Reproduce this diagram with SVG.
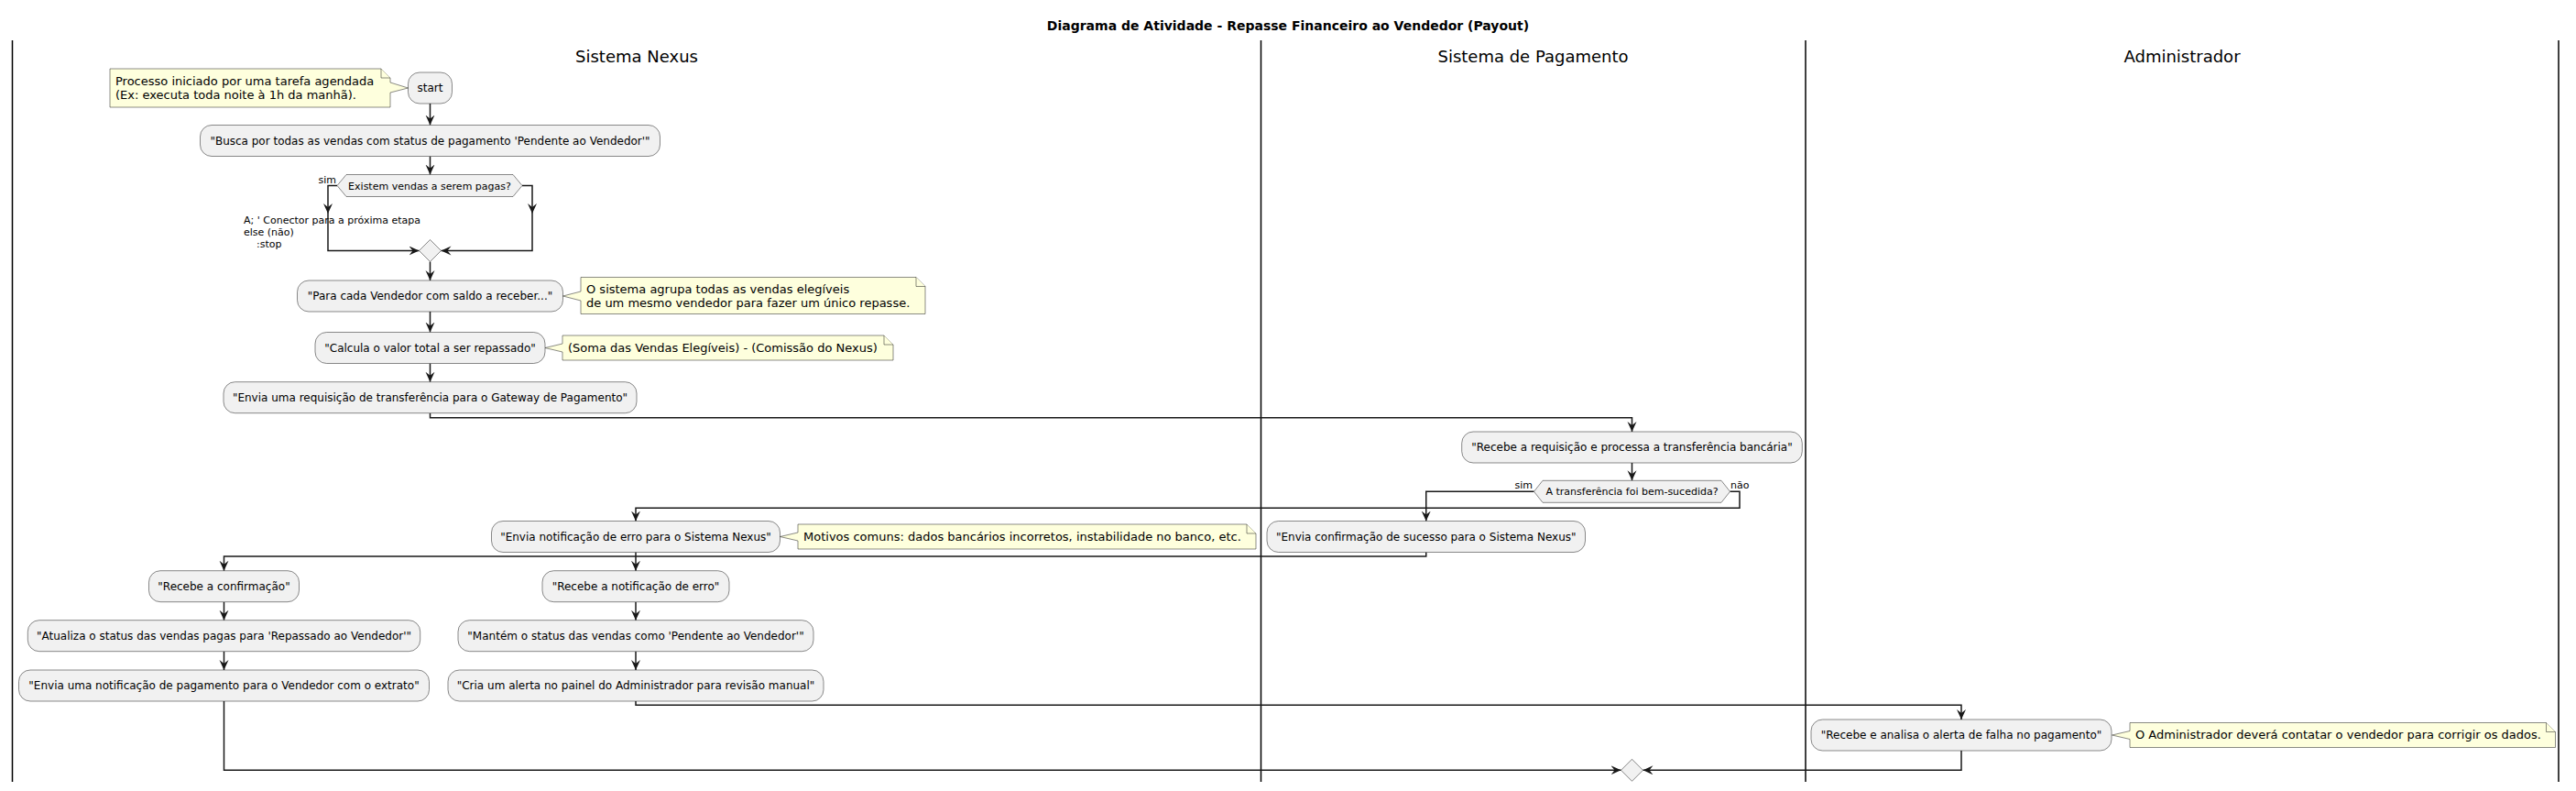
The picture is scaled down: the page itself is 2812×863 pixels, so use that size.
<svg xmlns="http://www.w3.org/2000/svg" width="2812" height="863" viewBox="0 0 2812 863">
<style>
text{font-family:"DejaVu Sans","Liberation Sans",sans-serif;fill:#000}
.title{font-size:14px;font-weight:bold;text-anchor:middle}
.lane{font-size:18px;text-anchor:middle}
.act rect{fill:#F1F1F1;stroke:#181818;stroke-width:0.5}
.act text{font-size:12px;text-anchor:middle}
.dec polygon{fill:#F1F1F1;stroke:#181818;stroke-width:0.5}
.dec text{font-size:11px;text-anchor:middle}
.note path{fill:#FEFFDD;stroke:#181818;stroke-width:0.5}
.note text{font-size:13px}
.lbl{font-size:11px}
.conn path{fill:none;stroke:#181818;stroke-width:1.5}
.laneline{stroke:#000;stroke-width:1.5}
</style>
<defs>
<marker id="ah" markerUnits="userSpaceOnUse" markerWidth="12" markerHeight="11" refX="11" refY="5" orient="auto">
<path d="M0,0 L11,5 L0,10 L4,5 Z" fill="#181818"/>
</marker>
</defs>
<rect width="2812" height="863" fill="#fff"/>
<text class="title" x="1406" y="33">Diagrama de Atividade - Repasse Financeiro ao Vendedor (Payout)</text>
<g id="lanes">
<line class="laneline" x1="13.5" y1="44" x2="13.5" y2="853"/>
<line class="laneline" x1="1376.5" y1="44" x2="1376.5" y2="853"/>
<line class="laneline" x1="1971" y1="44" x2="1971" y2="853"/>
<line class="laneline" x1="2793" y1="44" x2="2793" y2="853"/>
<text class="lane" x="695" y="67.5">Sistema Nexus</text>
<text class="lane" x="1673.5" y="67.5">Sistema de Pagamento</text>
<text class="lane" x="2382" y="67.5">Administrador</text>
</g>
<g id="connectors" class="conn">
<path d="M469.5,113 V136.5" marker-end="url(#ah)"/>
<path d="M469.5,170.5 V190.5" marker-end="url(#ah)"/>
<path d="M368,202.5 H358 V233" marker-end="url(#ah)"/>
<path d="M358,233 V273.5 H457.5" marker-end="url(#ah)"/>
<path d="M570,202.5 H581 V233" marker-end="url(#ah)"/>
<path d="M581,233 V273.5 H481.5" marker-end="url(#ah)"/>
<path d="M469.5,285.5 V306" marker-end="url(#ah)"/>
<path d="M469.5,340 V362.5" marker-end="url(#ah)"/>
<path d="M469.5,396.5 V416.7" marker-end="url(#ah)"/>
<path d="M469.5,450.7 V455.7 H1781.5 V471" marker-end="url(#ah)"/>
<path d="M1781.5,505 V524.3" marker-end="url(#ah)"/>
<path d="M1674.5,536.3 H1556.75 V568.5" marker-end="url(#ah)"/>
<path d="M1888.5,536.3 H1899 V554.3 H694 V568.5" marker-end="url(#ah)"/>
<path d="M1556.75,602.5 V607 H244.5 V622.7" marker-end="url(#ah)"/>
<path d="M694,602.5 V622.7" marker-end="url(#ah)"/>
<path d="M244.5,656.7 V676.7" marker-end="url(#ah)"/>
<path d="M244.5,710.7 V731" marker-end="url(#ah)"/>
<path d="M694,656.7 V676.7" marker-end="url(#ah)"/>
<path d="M694,710.7 V731" marker-end="url(#ah)"/>
<path d="M694,765 V769.3 H2141 V785" marker-end="url(#ah)"/>
<path d="M2141,819 V840.3 H1793.5" marker-end="url(#ah)"/>
<path d="M244.5,765 V840.3 H1769.5" marker-end="url(#ah)"/>
</g>
<text class="lbl" x="367" y="200" text-anchor="end">sim</text>
<text class="lbl" x="266" y="244">A; ' Conector para a próxima etapa</text>
<text class="lbl" x="266" y="257">else (não)</text>
<text class="lbl" x="280" y="270">:stop</text>
<text class="lbl" x="1673" y="533" text-anchor="end">sim</text>
<text class="lbl" x="1889" y="533">não</text>
<g id="n_start" class="act"><rect x="445.5" y="79" width="48" height="34" rx="12.5"/><text x="469.5" y="100.3">start</text></g>
<g id="n_busca" class="act"><rect x="218.5" y="136.5" width="502" height="34" rx="12.5"/><text x="469.5" y="157.8">"Busca por todas as vendas com status de pagamento 'Pendente ao Vendedor'"</text></g>
<g id="d_existem" class="dec"><polygon points="368,202.5 378,190.5 560,190.5 570,202.5 560,214.5 378,214.5"/><text x="469" y="206.5">Existem vendas a serem pagas?</text></g>
<g id="m_merge1" class="dec"><polygon points="469.5,261.5 481.5,273.5 469.5,285.5 457.5,273.5"/></g>
<g id="n_para" class="act"><rect x="324.5" y="306" width="290" height="34" rx="12.5"/><text x="469.5" y="327.3">"Para cada Vendedor com saldo a receber..."</text></g>
<g id="n_calcula" class="act"><rect x="344" y="362.5" width="251" height="34" rx="12.5"/><text x="469.5" y="383.8">"Calcula o valor total a ser repassado"</text></g>
<g id="n_envia_req" class="act"><rect x="244" y="416.7" width="451" height="34" rx="12.5"/><text x="469.5" y="438">"Envia uma requisição de transferência para o Gateway de Pagamento"</text></g>
<g id="n_recebe_req" class="act"><rect x="1595.7" y="471" width="371.6" height="34" rx="12.5"/><text x="1781.5" y="492.3">"Recebe a requisição e processa a transferência bancária"</text></g>
<g id="d_transf" class="dec"><polygon points="1674.5,536.3 1684,524.3 1879,524.3 1888.5,536.3 1879,548.3 1684,548.3"/><text x="1781.5" y="540.3">A transferência foi bem-sucedida?</text></g>
<g id="n_envia_conf" class="act"><rect x="1383" y="568.5" width="347.5" height="34" rx="12.5"/><text x="1556.75" y="589.8">"Envia confirmação de sucesso para o Sistema Nexus"</text></g>
<g id="n_envia_erro" class="act"><rect x="536.5" y="568.5" width="315" height="34" rx="12.5"/><text x="694" y="589.8">"Envia notificação de erro para o Sistema Nexus"</text></g>
<g id="n_recebe_conf" class="act"><rect x="162.5" y="622.7" width="164" height="34" rx="12.5"/><text x="244.5" y="644">"Recebe a confirmação"</text></g>
<g id="n_recebe_erro" class="act"><rect x="592" y="622.7" width="204" height="34" rx="12.5"/><text x="694" y="644">"Recebe a notificação de erro"</text></g>
<g id="n_atualiza" class="act"><rect x="30.3" y="676.7" width="428.4" height="34" rx="12.5"/><text x="244.5" y="698">"Atualiza o status das vendas pagas para 'Repassado ao Vendedor'"</text></g>
<g id="n_mantem" class="act"><rect x="500" y="676.7" width="388" height="34" rx="12.5"/><text x="694" y="698">"Mantém o status das vendas como 'Pendente ao Vendedor'"</text></g>
<g id="n_envia_pag" class="act"><rect x="20.5" y="731" width="448" height="34" rx="12.5"/><text x="244.5" y="752.3">"Envia uma notificação de pagamento para o Vendedor com o extrato"</text></g>
<g id="n_cria" class="act"><rect x="489" y="731" width="410" height="34" rx="12.5"/><text x="694" y="752.3">"Cria um alerta no painel do Administrador para revisão manual"</text></g>
<g id="n_recebe_alerta" class="act"><rect x="1977" y="785" width="328" height="34" rx="12.5"/><text x="2141" y="806.3">"Recebe e analisa o alerta de falha no pagamento"</text></g>
<g id="m_merge2" class="dec"><polygon points="1781.5,828.3 1793.5,840.3 1781.5,852.3 1769.5,840.3"/></g>
<g id="note_start" class="note"><path d="M120,75 H416 L426,85 V90 L445.5,96 L426,101 V117 H120 Z"/><path d="M416,75 V85 H426"/><text x="126" y="92.5">Processo iniciado por uma tarefa agendada</text><text x="126" y="107.6">(Ex: executa toda noite à 1h da manhã).</text></g>
<g id="note_agrupa" class="note"><path d="M634,302.5 H1000 L1010,312.5 V342.5 H634 V328 L614.5,323 L634,318 Z"/><path d="M1000,302.5 V312.5 H1010"/><text x="640" y="320">O sistema agrupa todas as vendas elegíveis</text><text x="640" y="335.1">de um mesmo vendedor para fazer um único repasse.</text></g>
<g id="note_soma" class="note"><path d="M614,366 H965 L975,376 V393 H614 V384 L595,379.5 L614,375 Z"/><path d="M965,366 V376 H975"/><text x="620" y="383.5">(Soma das Vendas Elegíveis) - (Comissão do Nexus)</text></g>
<g id="note_motivos" class="note"><path d="M871,572 H1361 L1371,582 V599 H871 V590 L851.5,585.5 L871,581 Z"/><path d="M1361,572 V582 H1371"/><text x="877" y="589.5">Motivos comuns: dados bancários incorretos, instabilidade no banco, etc.</text></g>
<g id="note_admin" class="note"><path d="M2325,788.5 H2779.5 L2789.5,798.5 V815.5 H2325 V806.5 L2305.5,802 L2325,797.5 Z"/><path d="M2779.5,788.5 V798.5 H2789.5"/><text x="2331" y="806">O Administrador deverá contatar o vendedor para corrigir os dados.</text></g>
</svg>
